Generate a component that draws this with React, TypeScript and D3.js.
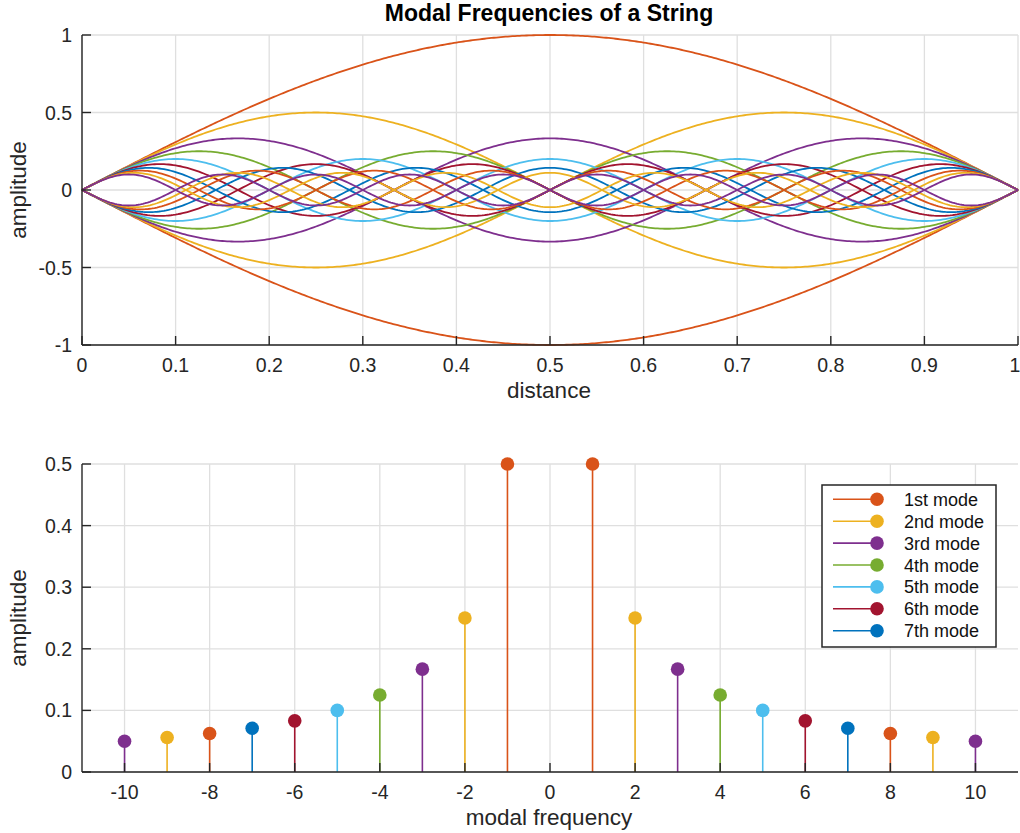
import React from "react";
import * as d3 from "d3";

// ---- data ----
const modeNumbers = [1, 2, 3, 4, 5, 6, 7, 8, 9, 10];
const modeAmplitudes = [1, 0.5, 0.333, 0.25, 0.2, 0.167, 0.143, 0.125, 0.111, 0.1];
const stemFrequencies = [-10, -9, -8, -7, -6, -5, -4, -3, -2, -1, 1, 2, 3, 4, 5, 6, 7, 8, 9, 10];
const stemAmplitudes = [0.05, 0.056, 0.0625, 0.071, 0.083, 0.1, 0.125, 0.167, 0.25, 0.5, 0.5, 0.25, 0.167, 0.125, 0.1, 0.083, 0.071, 0.0625, 0.056, 0.05];
const legendLabels = ["1st mode", "2nd mode", "3rd mode", "4th mode", "5th mode", "6th mode", "7th mode"];
const topXTicks = [0, 0.1, 0.2, 0.3, 0.4, 0.5, 0.6, 0.7, 0.8, 0.9, 1];
const topYTicks = [-1, -0.5, 0, 0.5, 1];
const botXTicks = [-10, -8, -6, -4, -2, 0, 2, 4, 6, 8, 10];
const botYTicks = [0, 0.1, 0.2, 0.3, 0.4, 0.5];

const palette = ["#D95319", "#EDB120", "#7E2F8E", "#77AC30", "#4DBEEE", "#A2142F", "#0072BD"];
const colorFor = (n: number) => palette[(n - 1) % palette.length];

const FONT = "'Liberation Sans', Arial, Helvetica, sans-serif";
const AX = "#262626";
const GRID = "#dfdfdf";
const TICK_FS = 19.5;
const LABEL_FS = 22.5;

export default function App() {
  const W = 1020, H = 833;
  const left = 82, right = 1018;
  const top1 = 35, bot1 = 345;
  const top2 = 464, bot2 = 772;

  const x1 = d3.scaleLinear().domain([0, 1]).range([left, right]);
  const y1 = d3.scaleLinear().domain([-1, 1]).range([bot1, top1]);
  const x2 = d3.scaleLinear().domain([-11, 11]).range([left, right]);
  const y2 = d3.scaleLinear().domain([0, 0.5]).range([bot2, top2]);

  const samples = d3.range(0, 1.0001, 0.0025);
  const line = d3.line<[number, number]>().x(d => x1(d[0])).y(d => y1(d[1]));

  const curves: { d: string; c: string }[] = [];
  modeNumbers.forEach((n, i) => {
    const a = modeAmplitudes[i];
    [1, -1].forEach(s => {
      const pts = samples.map(x => [x, s * a * Math.sin(n * Math.PI * x)] as [number, number]);
      curves.push({ d: line(pts) || "", c: colorFor(n) });
    });
  });

  const tl = 9;

  return (
    <svg width={W} height={H} style={{ display: "block", position: "absolute", left: 0, top: 0 }} fontFamily={FONT}>
      <rect width={W} height={H} fill="#fff" />
      {/* ---------- top ---------- */}
      <text x={549} y={21} textAnchor="middle" fontSize={23} fontWeight="bold" fill="#000">Modal Frequencies of a String</text>
      {topXTicks.map(t => (
        <line key={"gx" + t} x1={x1(t)} x2={x1(t)} y1={top1} y2={bot1} stroke={GRID} strokeWidth={1.3} />
      ))}
      {topYTicks.map(t => (
        <line key={"gy" + t} x1={left} x2={right} y1={y1(t)} y2={y1(t)} stroke={GRID} strokeWidth={1.3} />
      ))}
      {curves.map((c, i) => (
        <path key={i} d={c.d} fill="none" stroke={c.c} strokeWidth={1.8} />
      ))}
      <line x1={left} x2={left} y1={top1} y2={bot1} stroke={AX} strokeWidth={1.4} />
      <line x1={left} x2={right} y1={bot1} y2={bot1} stroke={AX} strokeWidth={1.4} />
      {topXTicks.map(t => (
        <g key={"tx" + t}>
          <line x1={x1(t)} x2={x1(t)} y1={bot1} y2={bot1 - tl} stroke={AX} strokeWidth={1.4} />
          <text x={t === 1 ? x1(t) - 3 : x1(t)} y={bot1 + 26.5} textAnchor="middle" fontSize={TICK_FS} fill={AX}>{String(t)}</text>
        </g>
      ))}
      {topYTicks.map(t => (
        <g key={"ty" + t}>
          <line x1={left} x2={left + tl} y1={y1(t)} y2={y1(t)} stroke={AX} strokeWidth={1.4} />
          <text x={left - 10} y={y1(t) + 7} textAnchor="end" fontSize={TICK_FS} fill={AX}>{String(t)}</text>
        </g>
      ))}
      <text x={549} y={398} textAnchor="middle" fontSize={LABEL_FS} fill={AX}>distance</text>
      <text transform={`translate(26,${(top1 + bot1) / 2}) rotate(-90)`} textAnchor="middle" fontSize={LABEL_FS} fill={AX}>amplitude</text>

      {/* ---------- bottom ---------- */}
      {botXTicks.map(t => (
        <line key={"bgx" + t} x1={x2(t)} x2={x2(t)} y1={top2} y2={bot2} stroke={GRID} strokeWidth={1.3} />
      ))}
      {botYTicks.map(t => (
        <line key={"bgy" + t} x1={left} x2={right} y1={y2(t)} y2={y2(t)} stroke={GRID} strokeWidth={1.3} />
      ))}
      {stemFrequencies.map((f, i) => (
        <line key={"st" + i} x1={x2(f)} x2={x2(f)} y1={y2(0)} y2={y2(stemAmplitudes[i])} stroke={colorFor(Math.abs(f))} strokeWidth={1.6} />
      ))}
      {stemFrequencies.map((f, i) => (
        <circle key={"mk" + i} cx={x2(f)} cy={y2(stemAmplitudes[i])} r={6.8} fill={colorFor(Math.abs(f))} />
      ))}
      <line x1={left} x2={left} y1={top2} y2={bot2} stroke={AX} strokeWidth={1.4} />
      <line x1={left} x2={right} y1={bot2} y2={bot2} stroke={AX} strokeWidth={1.4} />
      {botXTicks.map(t => (
        <g key={"btx" + t}>
          <line x1={x2(t)} x2={x2(t)} y1={bot2} y2={bot2 - tl} stroke={AX} strokeWidth={1.4} />
          <text x={x2(t)} y={bot2 + 27} textAnchor="middle" fontSize={TICK_FS} fill={AX}>{String(t)}</text>
        </g>
      ))}
      {botYTicks.map(t => (
        <g key={"bty" + t}>
          <line x1={left} x2={left + tl} y1={y2(t)} y2={y2(t)} stroke={AX} strokeWidth={1.4} />
          <text x={left - 10} y={y2(t) + 7} textAnchor="end" fontSize={TICK_FS} fill={AX}>{String(t)}</text>
        </g>
      ))}
      <text x={549} y={825} textAnchor="middle" fontSize={LABEL_FS} fill={AX}>modal frequency</text>
      <text transform={`translate(26,${(top2 + bot2) / 2}) rotate(-90)`} textAnchor="middle" fontSize={LABEL_FS} fill={AX}>amplitude</text>

      {/* legend */}
      <rect x={822} y={485} width={174} height={162} fill="#fff" stroke={AX} strokeWidth={1.5} />
      {legendLabels.map((lab, i) => {
        const yy = 499.3 + i * 21.9;
        const c = palette[i];
        return (
          <g key={"lg" + i}>
            <line x1={833} x2={877} y1={yy} y2={yy} stroke={c} strokeWidth={1.6} />
            <circle cx={877} cy={yy} r={6.8} fill={c} />
            <text x={904} y={yy + 6.5} fontSize={18} fill="#111">{lab}</text>
          </g>
        );
      })}
    </svg>
  );
}
